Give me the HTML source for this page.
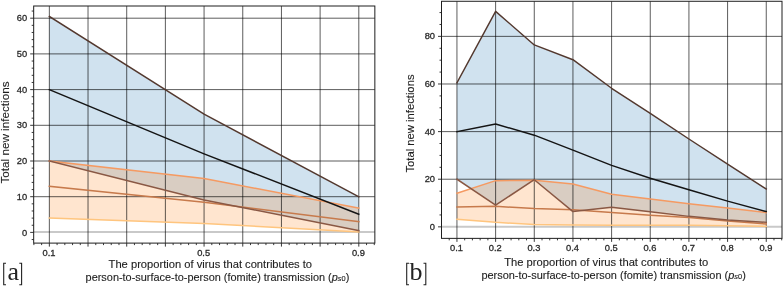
<!DOCTYPE html>
<html><head><meta charset="utf-8"><style>
html,body{margin:0;padding:0;background:#fff;}
body{width:783px;height:286px;overflow:hidden;}
svg{display:block;will-change:transform;}
.tl{font-family:"Liberation Sans",sans-serif;font-size:9.3px;fill:#2b2b2b;stroke:#2b2b2b;stroke-width:0.3px;}
.al{font-family:"Liberation Sans",sans-serif;font-size:11px;fill:#1e1e1e;stroke:#1e1e1e;stroke-width:0.12px;}
.pl{font-family:"Liberation Serif",serif;font-size:26px;fill:#222;}
</style></head><body>
<svg width="783" height="286" viewBox="0 0 783 286">
<rect width="783" height="286" fill="#fff"/>
<polygon points="49.35,16.42 204.07,114.23 358.8,196.7 358.8,230.62 204.07,199.91 49.35,161" fill="rgb(31,119,180)" fill-opacity="0.21"/>
<polygon points="49.35,161 204.07,178.49 358.8,208.12 358.8,231.86 204.07,223.47 49.35,218.12" fill="rgb(255,127,14)" fill-opacity="0.2"/>
<path d="M33.68 232H374.85" stroke="#c9c9c9" stroke-width="2"/>
<path d="M49.35 6V243.1M88.03 6V243.1M126.71 6V243.1M165.39 6V243.1M204.07 6V243.1M242.76 6V243.1M281.44 6V243.1M320.12 6V243.1M358.8 6V243.1M33.68 196.7H374.85M33.68 161H374.85M33.68 125.3H374.85M33.68 89.6H374.85M33.68 53.9H374.85M33.68 18.2H374.85" stroke="#000" stroke-opacity="0.64" stroke-width="1" fill="none"/>
<polyline points="49.35,218.12 204.07,223.47 358.8,231.86" fill="none" stroke="#ffc57e" stroke-width="1.5" stroke-linejoin="round" stroke-linecap="square"/>
<polyline points="49.35,186.35 204.07,202.23 358.8,221.69" fill="none" stroke="#c77a4c" stroke-width="1.5" stroke-linejoin="round" stroke-linecap="square"/>
<polyline points="49.35,161 204.07,178.49 358.8,208.12" fill="none" stroke="#f59a62" stroke-width="1.5" stroke-linejoin="round" stroke-linecap="square"/>
<polyline points="49.35,161 204.07,199.91 358.8,230.62" fill="none" stroke="#8a5844" stroke-width="1.5" stroke-linejoin="round" stroke-linecap="square"/>
<polyline points="49.35,89.6 204.07,153.86 358.8,214.19" fill="none" stroke="#141414" stroke-width="1.45" stroke-linejoin="round" stroke-linecap="square"/>
<polyline points="49.35,16.42 204.07,114.23 358.8,196.7" fill="none" stroke="#53382e" stroke-width="1.45" stroke-linejoin="round" stroke-linecap="square"/>
<rect x="33.68" y="6" width="341.17" height="237.1" fill="none" stroke="#1e1e1e" stroke-width="1"/>
<path d="M33.88 243.1v2.0M41.61 243.1v2.0M49.35 243.1v3.5M57.09 243.1v2.0M64.82 243.1v2.0M72.56 243.1v2.0M80.29 243.1v2.0M88.03 243.1v3.5M95.77 243.1v2.0M103.5 243.1v2.0M111.24 243.1v2.0M118.98 243.1v2.0M126.71 243.1v3.5M134.45 243.1v2.0M142.19 243.1v2.0M149.92 243.1v2.0M157.66 243.1v2.0M165.39 243.1v3.5M173.13 243.1v2.0M180.87 243.1v2.0M188.6 243.1v2.0M196.34 243.1v2.0M204.07 243.1v3.5M211.81 243.1v2.0M219.55 243.1v2.0M227.28 243.1v2.0M235.02 243.1v2.0M242.76 243.1v3.5M250.49 243.1v2.0M258.23 243.1v2.0M265.96 243.1v2.0M273.7 243.1v2.0M281.44 243.1v3.5M289.17 243.1v2.0M296.91 243.1v2.0M304.65 243.1v2.0M312.38 243.1v2.0M320.12 243.1v3.5M327.85 243.1v2.0M335.59 243.1v2.0M343.33 243.1v2.0M351.06 243.1v2.0M358.8 243.1v3.5M366.54 243.1v2.0M374.27 243.1v2.0M33.68 239.54h-2.0M33.68 232.4h-3.5M33.68 225.26h-2.0M33.68 218.12h-2.0M33.68 210.98h-2.0M33.68 203.84h-2.0M33.68 196.7h-3.5M33.68 189.56h-2.0M33.68 182.42h-2.0M33.68 175.28h-2.0M33.68 168.14h-2.0M33.68 161h-3.5M33.68 153.86h-2.0M33.68 146.72h-2.0M33.68 139.58h-2.0M33.68 132.44h-2.0M33.68 125.3h-3.5M33.68 118.16h-2.0M33.68 111.02h-2.0M33.68 103.88h-2.0M33.68 96.74h-2.0M33.68 89.6h-3.5M33.68 82.46h-2.0M33.68 75.32h-2.0M33.68 68.18h-2.0M33.68 61.04h-2.0M33.68 53.9h-3.5M33.68 46.76h-2.0M33.68 39.62h-2.0M33.68 32.48h-2.0M33.68 25.34h-2.0M33.68 18.2h-3.5M33.68 11.06h-2.0" stroke="#222" stroke-width="0.9" fill="none"/>
<text x="27.18" y="235.5" text-anchor="end" class="tl">0</text>
<text x="27.18" y="199.8" text-anchor="end" class="tl">10</text>
<text x="27.18" y="164.1" text-anchor="end" class="tl">20</text>
<text x="27.18" y="128.4" text-anchor="end" class="tl">30</text>
<text x="27.18" y="92.7" text-anchor="end" class="tl">40</text>
<text x="27.18" y="57" text-anchor="end" class="tl">50</text>
<text x="27.18" y="21.3" text-anchor="end" class="tl">60</text>
<text x="48.95" y="256.1" text-anchor="middle" class="tl">0.1</text>
<text x="203.67" y="256.1" text-anchor="middle" class="tl">0.5</text>
<text x="358.4" y="256.1" text-anchor="middle" class="tl">0.9</text>
<polygon points="456.95,82.8 495.61,11.37 534.27,44.94 572.94,59.7 611.6,88.28 650.26,113.28 688.92,138.99 727.59,164.23 766.25,188.99 766.25,222.33 727.59,219.95 688.92,216.37 650.26,211.85 611.6,207.33 572.94,211.61 534.27,179.71 495.61,205.18 456.95,179.23" fill="rgb(31,119,180)" fill-opacity="0.21"/>
<polygon points="456.95,193.28 495.61,180.66 534.27,180.18 572.94,183.99 611.6,194.23 650.26,198.99 688.92,203.75 727.59,208.04 766.25,212.56 766.25,226.37 727.59,225.66 688.92,225.18 650.26,225.18 611.6,225.18 572.94,224.95 534.27,224.47 495.61,222.33 456.95,219.23" fill="rgb(255,127,14)" fill-opacity="0.2"/>
<path d="M441.5 226.85H782" stroke="#c9c9c9" stroke-width="2"/>
<path d="M456.95 1.28V238.36M495.61 1.28V238.36M534.27 1.28V238.36M572.94 1.28V238.36M611.6 1.28V238.36M650.26 1.28V238.36M688.93 1.28V238.36M727.59 1.28V238.36M766.25 1.28V238.36M441.5 179.23H782M441.5 131.61H782M441.5 83.99H782M441.5 36.37H782" stroke="#000" stroke-opacity="0.64" stroke-width="1" fill="none"/>
<polyline points="456.95,219.23 495.61,222.33 534.27,224.47 572.94,224.95 611.6,225.18 650.26,225.18 688.92,225.18 727.59,225.66 766.25,226.37" fill="none" stroke="#ffc57e" stroke-width="1.5" stroke-linejoin="round" stroke-linecap="square"/>
<polyline points="456.95,207.09 495.61,206.37 534.27,208.52 572.94,209.71 611.6,212.56 650.26,215.18 688.92,217.56 727.59,220.9 766.25,223.99" fill="none" stroke="#c77a4c" stroke-width="1.5" stroke-linejoin="round" stroke-linecap="square"/>
<polyline points="456.95,193.28 495.61,180.66 534.27,180.18 572.94,183.99 611.6,194.23 650.26,198.99 688.92,203.75 727.59,208.04 766.25,212.56" fill="none" stroke="#f59a62" stroke-width="1.5" stroke-linejoin="round" stroke-linecap="square"/>
<polyline points="456.95,179.23 495.61,205.18 534.27,179.71 572.94,211.61 611.6,207.33 650.26,211.85 688.92,216.37 727.59,219.95 766.25,222.33" fill="none" stroke="#8a5844" stroke-width="1.5" stroke-linejoin="round" stroke-linecap="square"/>
<polyline points="456.95,131.61 495.61,123.99 534.27,135.18 572.94,150.18 611.6,165.42 650.26,178.28 688.92,189.71 727.59,201.14 766.25,211.61" fill="none" stroke="#141414" stroke-width="1.45" stroke-linejoin="round" stroke-linecap="square"/>
<polyline points="456.95,82.8 495.61,11.37 534.27,44.94 572.94,59.7 611.6,88.28 650.26,113.28 688.92,138.99 727.59,164.23 766.25,188.99" fill="none" stroke="#53382e" stroke-width="1.45" stroke-linejoin="round" stroke-linecap="square"/>
<rect x="441.5" y="1.28" width="340.5" height="237.08" fill="none" stroke="#1e1e1e" stroke-width="1"/>
<path d="M449.22 238.36v2.0M456.95 238.36v3.5M464.68 238.36v2.0M472.41 238.36v2.0M480.15 238.36v2.0M487.88 238.36v2.0M495.61 238.36v3.5M503.34 238.36v2.0M511.08 238.36v2.0M518.81 238.36v2.0M526.54 238.36v2.0M534.27 238.36v3.5M542.01 238.36v2.0M549.74 238.36v2.0M557.47 238.36v2.0M565.21 238.36v2.0M572.94 238.36v3.5M580.67 238.36v2.0M588.4 238.36v2.0M596.13 238.36v2.0M603.87 238.36v2.0M611.6 238.36v3.5M619.33 238.36v2.0M627.07 238.36v2.0M634.8 238.36v2.0M642.53 238.36v2.0M650.26 238.36v3.5M658 238.36v2.0M665.73 238.36v2.0M673.46 238.36v2.0M681.19 238.36v2.0M688.92 238.36v3.5M696.66 238.36v2.0M704.39 238.36v2.0M712.12 238.36v2.0M719.86 238.36v2.0M727.59 238.36v3.5M735.32 238.36v2.0M743.05 238.36v2.0M750.78 238.36v2.0M758.52 238.36v2.0M766.25 238.36v3.5M773.98 238.36v2.0M781.71 238.36v2.0M441.5 226.85h-3.5M441.5 214.94h-2.0M441.5 203.04h-2.0M441.5 191.13h-2.0M441.5 179.23h-3.5M441.5 167.32h-2.0M441.5 155.42h-2.0M441.5 143.51h-2.0M441.5 131.61h-3.5M441.5 119.7h-2.0M441.5 107.8h-2.0M441.5 95.9h-2.0M441.5 83.99h-3.5M441.5 72.09h-2.0M441.5 60.18h-2.0M441.5 48.28h-2.0M441.5 36.37h-3.5M441.5 24.47h-2.0M441.5 12.56h-2.0" stroke="#222" stroke-width="0.9" fill="none"/>
<text x="435" y="229.75" text-anchor="end" class="tl">0</text>
<text x="435" y="182.13" text-anchor="end" class="tl">20</text>
<text x="435" y="134.51" text-anchor="end" class="tl">40</text>
<text x="435" y="86.89" text-anchor="end" class="tl">60</text>
<text x="435" y="39.27" text-anchor="end" class="tl">80</text>
<text x="456.55" y="251.1" text-anchor="middle" class="tl">0.1</text>
<text x="495.21" y="251.1" text-anchor="middle" class="tl">0.2</text>
<text x="533.88" y="251.1" text-anchor="middle" class="tl">0.3</text>
<text x="572.54" y="251.1" text-anchor="middle" class="tl">0.4</text>
<text x="611.2" y="251.1" text-anchor="middle" class="tl">0.5</text>
<text x="649.86" y="251.1" text-anchor="middle" class="tl">0.6</text>
<text x="688.52" y="251.1" text-anchor="middle" class="tl">0.7</text>
<text x="727.19" y="251.1" text-anchor="middle" class="tl">0.8</text>
<text x="765.85" y="251.1" text-anchor="middle" class="tl">0.9</text>
<text x="108.6" y="268.4" class="al" textLength="203.5" lengthAdjust="spacingAndGlyphs">The proportion of virus that contributes to</text>
<text x="85.6" y="280.7" class="al" textLength="263.7" lengthAdjust="spacingAndGlyphs">person-to-surface-to-person (fomite) transmission (<tspan font-style="italic">p</tspan><tspan font-size="7.5" font-style="italic">s</tspan><tspan font-size="7.5">0</tspan>)</text>
<text x="504.2" y="265.8" class="al" textLength="204.1" lengthAdjust="spacingAndGlyphs">The proportion of virus that contributes to</text>
<text x="481.4" y="278.6" class="al" textLength="264.4" lengthAdjust="spacingAndGlyphs">person-to-surface-to-person (fomite) transmission (<tspan font-style="italic">p</tspan><tspan font-size="7.5" font-style="italic">s</tspan><tspan font-size="7.5">0</tspan>)</text>
<text transform="translate(8.6,183.5) rotate(-90)" x="0" y="0" class="al" textLength="102" lengthAdjust="spacingAndGlyphs">Total new infections</text>
<text transform="translate(414,172.6) rotate(-90)" x="0" y="0" class="al" textLength="98.1" lengthAdjust="spacingAndGlyphs">Total new infections</text>
<path d="M6 263.2H3.7V284.8H6M19.3 263.2H21.6V284.8H19.3" fill="none" stroke="#222" stroke-width="1.1"/>
<text x="7.5" y="280.2" class="pl" font-size="23.5">a</text>
<path d="M409 263.2H406.7V284.8H409M423.5 263.2H425.8V284.8H423.5" fill="none" stroke="#222" stroke-width="1.1"/>
<text x="409.6" y="280.2" class="pl" font-size="23.5">b</text>
</svg>
</body></html>
